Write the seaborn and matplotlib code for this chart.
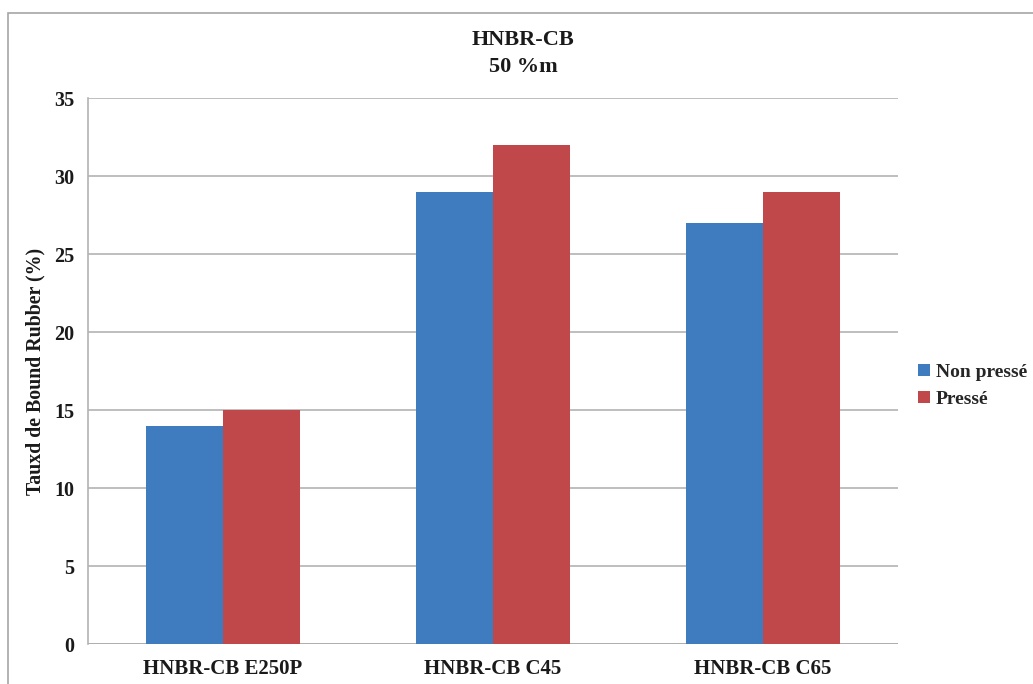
import numpy as np
import pandas as pd
import matplotlib.pyplot as plt
import seaborn as sns
from matplotlib.patches import Rectangle

# data
categories = ['HNBR-CB E250P', 'HNBR-CB C45', 'HNBR-CB C65']
non_presse = [14, 29, 27]
presse = [15, 32, 29]
series_names = ['Non pressé', 'Pressé']

df = pd.DataFrame({
    'cat': categories * 2,
    'val': non_presse + presse,
    'serie': [series_names[0]] * 3 + [series_names[1]] * 3,
})

sns.set_style('white')
plt.rcParams['font.family'] = ['Liberation Serif', 'DejaVu Serif']
plt.rcParams['font.weight'] = 'bold'

fig = plt.figure(figsize=(10.33, 6.84), dpi=100)
ax = fig.add_axes([88 / 1033, 1 - 644 / 684, 810 / 1033, 546 / 684])

sns.barplot(data=df, x='cat', y='val', hue='serie', ax=ax,
            palette=['#3F7CBF', '#C0474A'], width=0.57, saturation=1,
            edgecolor='none')

ax.set_ylim(0, 35)
ax.set_yticks(np.arange(0, 36, 5))
ax.yaxis.grid(True, color='#b3b3b3', linewidth=1.2)
ax.set_axisbelow(True)
for s in ['top', 'right', 'bottom']:
    ax.spines[s].set_visible(False)
ax.spines['left'].set_color('#b3b3b3')
ax.spines['left'].set_linewidth(1.2)
ax.axhline(0, color='#8c8c8c', linewidth=1.2, zorder=0.5)
ax.tick_params(axis='y', length=4, color='#b3b3b3', width=1.2, pad=6,
               labelsize=14.5)
ax.tick_params(axis='x', length=0, pad=11, labelsize=15)
for lab in ax.get_xticklabels() + ax.get_yticklabels():
    lab.set_fontweight('bold')
    lab.set_color('#1a1a1a')

ax.set_xlabel('')
ax.set_ylabel('Tauxd de Bound Rubber (%)', fontsize=14.3, fontweight='bold',
              color='#1a1a1a', labelpad=6)

fig.text(523 / 1033, 1 - 40 / 684, 'HNBR-CB', ha='center', va='center',
         fontsize=16, fontweight='bold', color='#1a1a1a')
fig.text(523 / 1033, 1 - 67 / 684, '50 %m', ha='center', va='center',
         fontsize=16, fontweight='bold', color='#1a1a1a')

ax.legend(loc='center left', bbox_to_anchor=(918 / 1033, 1 - 386 / 684),
          bbox_transform=fig.transFigure, frameon=False,
          prop={'size': 14, 'weight': 'bold'}, handlelength=0.6,
          handleheight=0.6, handletextpad=0.3, labelspacing=0.5,
          borderpad=0, borderaxespad=0)

# outer chart border
fig.patches.append(Rectangle((8 / 1033, -0.05), 1.1, 1 - 13 / 684 + 0.05,
                             transform=fig.transFigure, fill=False,
                             edgecolor='#a6a6a6', linewidth=1.2))

fig.savefig('out.png', dpi=100)
